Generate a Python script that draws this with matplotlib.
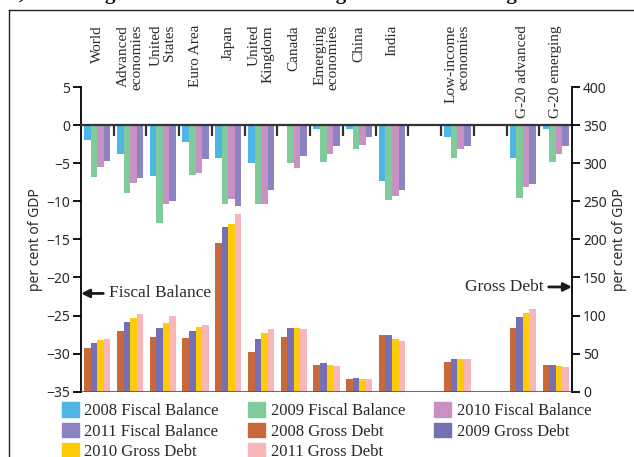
import numpy as np
import matplotlib
matplotlib.use('Agg')
import matplotlib.pyplot as plt
from matplotlib.patches import Patch
from matplotlib.lines import Line2D

# slots 10 and 12 are empty gaps in the original
CATEGORIES = ['World', 'Advanced\neconomies', 'United\nStates', 'Euro Area', 'Japan',
              'United\nKingdom', 'Canada', 'Emerging\neconomies', 'China', 'India',
              '', 'Low-income\neconomies', '', 'G-20 advanced', 'G-20 emerging']

NA = np.nan
FB_2008 = [-2.0, -3.8, -6.7, -2.2, -4.3, -5.0, 0.0, -0.5, -0.5, -7.3, NA, -1.5, NA, -4.3, -0.5]
FB_2009 = [-6.8, -8.9, -12.9, -6.6, -10.4, -10.4, -5.0, -4.8, -3.2, -9.8, NA, -4.3, NA, -9.6, -4.8]
FB_2010 = [-5.5, -7.6, -10.4, -6.3, -9.7, -10.4, -5.6, -3.8, -2.6, -9.3, NA, -3.2, NA, -8.1, -3.8]
FB_2011 = [-4.7, -6.9, -10.0, -4.5, -10.6, -8.5, -4.0, -2.7, -1.6, -8.5, NA, -2.8, NA, -7.7, -2.7]

GD_2008 = [57.5, 79.9, 71.9, 70.6, 195.6, 52.3, 71.9, 35.1, 16.7, 74.6, NA, 39.0, NA, 83.8, 35.1]
GD_2009 = [64.0, 91.7, 83.8, 79.9, 216.7, 69.3, 83.8, 37.7, 18.0, 74.6, NA, 43.0, NA, 98.3, 35.1]
GD_2010 = [68.0, 96.9, 90.4, 85.1, 220.6, 77.2, 83.8, 35.1, 16.7, 69.3, NA, 43.0, NA, 103.5, 33.8]
GD_2011 = [69.3, 102.2, 99.6, 87.7, 233.8, 82.5, 82.5, 33.8, 16.7, 66.7, NA, 43.0, NA, 108.8, 32.5]

FB_LABELS = ['2008 Fiscal Balance', '2009 Fiscal Balance', '2010 Fiscal Balance', '2011 Fiscal Balance']
GD_LABELS = ['2008 Gross Debt', '2009 Gross Debt', '2010 Gross Debt', '2011 Gross Debt']

FB_COLORS = ['#4eb6e6', '#80cb9a', '#c990c3', '#8b84c0']
GD_COLORS = ['#c8693a', '#7570b3', '#fecb06', '#f7b6ba']

SERIF = 'Liberation Serif'
SANS = 'Noto Sans'
TXT = '#2a2a2a'
BAR_W = 0.2


def draw():
    fig = plt.figure(figsize=(6.34, 4.57), dpi=100)
    ax = fig.add_axes([0.1278, 0.1429, 0.7744, 0.6667])
    ax2 = ax.twinx()

    x = np.arange(len(CATEGORIES))
    offsets = (np.arange(4) - 1.5) * BAR_W

    for vals, col, off in zip([FB_2008, FB_2009, FB_2010, FB_2011], FB_COLORS, offsets):
        ax.bar(x + off, vals, BAR_W, color=col, linewidth=0, zorder=1)
    for vals, col, off in zip([GD_2008, GD_2009, GD_2010, GD_2011], GD_COLORS, offsets):
        ax2.bar(x + off, vals, BAR_W, color=col, linewidth=0, zorder=1)

    ax.set_xlim(-0.5, len(CATEGORIES) - 0.5)
    ax.set_ylim(-35, 5)
    ax2.set_ylim(0, 400)

    # zero line with small separators between the groups
    ax.spines['bottom'].set_position(('data', 0))
    ax.spines['bottom'].set_color('#333333')
    ax.spines['bottom'].set_linewidth(1.6)
    ax.set_xticks(x[:-1] + 0.5)
    ax.tick_params(axis='x', direction='out', length=8, width=1.6, color='#333333',
                   labelbottom=False)
    ax2.axhline(0, color='#555555', lw=2.2, alpha=0.85, zorder=5)

    for a in (ax, ax2):
        a.spines['top'].set_visible(False)
    ax.spines['right'].set_visible(False)
    ax2.spines['left'].set_visible(False)
    ax2.spines['bottom'].set_visible(False)
    ax.spines['left'].set_linewidth(1.3)
    ax2.spines['right'].set_linewidth(1.3)

    ax.set_yticks(np.arange(-35, 6, 5))
    ax2.set_yticks(np.arange(0, 401, 50))
    for a in (ax, ax2):
        a.tick_params(axis='y', direction='out', length=6, width=1.3, labelsize=10,
                      labelcolor=TXT, pad=2)
        for t in a.get_yticklabels():
            t.set_fontfamily(SANS)

    ax.set_ylabel('per cent of GDP', fontfamily=SANS, fontsize=10, color=TXT, labelpad=2)
    ax2.set_ylabel('per cent of GDP', fontfamily=SANS, fontsize=10, color=TXT, labelpad=4)

    # country names along the top
    trans = matplotlib.transforms.blended_transform_factory(ax.transData, fig.transFigure)
    for i, name in enumerate(CATEGORIES):
        if name:
            ax.text(i, 1 - 25 / 457, name, transform=trans, rotation=90, ha='center', va='top',
                    multialignment='right', linespacing=1.0, fontfamily=SERIF, fontsize=11,
                    color=TXT, clip_on=False)

    arrow = dict(arrowstyle='-|>', color='#1a1a1a', lw=2, mutation_scale=12,
                 shrinkA=2, shrinkB=0)
    ax.annotate('Fiscal Balance', xy=(-0.5, -22.1), xytext=(0.35, -22.1),
                fontfamily=SERIF, fontsize=12.5, color=TXT, va='center', ha='left',
                arrowprops=arrow, annotation_clip=False)
    ax2.annotate('Gross Debt', xy=(14.5, 137.5), xytext=(13.62, 137.5),
                 fontfamily=SERIF, fontsize=12.5, color=TXT, va='center', ha='right',
                 arrowprops=arrow, annotation_clip=False)

    # legend laid out row by row like the original
    fb_h = [Patch(color=c, label=l) for c, l in zip(FB_COLORS, FB_LABELS)]
    gd_h = [Patch(color=c, label=l) for c, l in zip(GD_COLORS, GD_LABELS)]
    order = [fb_h[0], fb_h[3], gd_h[2], fb_h[1], gd_h[0], gd_h[3], fb_h[2], gd_h[1]]
    fig.legend(handles=order, loc='upper left', bbox_to_anchor=(62 / 634, 1 - 402 / 457),
               ncol=3, frameon=False, borderpad=0, borderaxespad=0,
               handlelength=1.0, handleheight=1.0, handletextpad=0.35,
               columnspacing=1.75, labelspacing=0.2,
               prop={'family': SERIF, 'size': 12}, labelcolor=TXT)

    # frame of the cropped page and the clipped heading above it
    fig.add_artist(Line2D([9 / 634, 9 / 634], [0, 1 - 10 / 457], color='#222222', lw=1.0))
    fig.add_artist(Line2D([9 / 634, 1], [1 - 10 / 457, 1 - 10 / 457], color='#222222', lw=1.0))
    fig.text(0.47, 1 + 1 / 457, 'Figure 1.1, Widening Fiscal Deficits and Rising Gross Debt among G-20 Economies',
             ha='center', va='baseline', fontfamily=SERIF, fontsize=15, fontweight='bold',
             color='#111111')

    fig.savefig('out.png', dpi=100)


if __name__ == '__main__':
    draw()
